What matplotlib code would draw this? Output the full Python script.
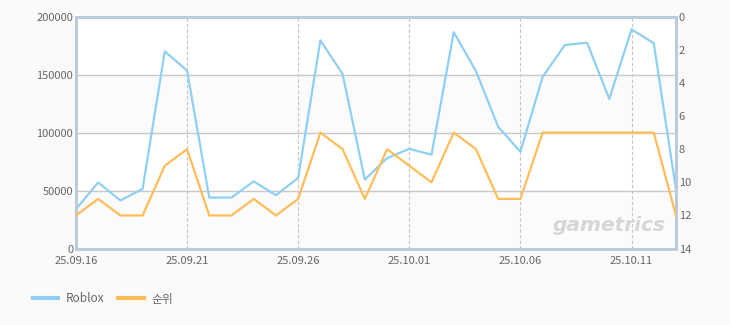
import matplotlib
matplotlib.use('Agg')
import matplotlib.pyplot as plt
from matplotlib.lines import Line2D

plt.rcParams['font.family'] = ['Noto Sans CJK KR', 'DejaVu Sans']

# 25.09.16 ~ 25.10.13 (daily)
dates = ['25.09.16', '25.09.17', '25.09.18', '25.09.19', '25.09.20', '25.09.21', '25.09.22',
         '25.09.23', '25.09.24', '25.09.25', '25.09.26', '25.09.27', '25.09.28', '25.09.29',
         '25.09.30', '25.10.01', '25.10.02', '25.10.03', '25.10.04', '25.10.05', '25.10.06',
         '25.10.07', '25.10.08', '25.10.09', '25.10.10', '25.10.11', '25.10.12', '25.10.13']
roblox = [34000, 57000, 41500, 51500, 170000, 153500, 44000, 44000, 58000, 46000, 61000,
          179500, 150500, 59500, 78000, 86000, 81000, 186500, 153000, 105000, 83500,
          148000, 175500, 177500, 129000, 189000, 177000, 51000]
rank = [12, 11, 12, 12, 9, 8, 12, 12, 11, 12, 11, 7, 8, 11, 8, 9, 10, 7, 8, 11, 11,
        7, 7, 7, 7, 7, 7, 12]
tick_labels = ['25.09.16', '25.09.21', '25.09.26', '25.10.01', '25.10.06', '25.10.11']

blue = '#8fd0f2'
orange = '#ffbd59'
frame = '#bccbdb'
text_c = '#666666'

fig = plt.figure(figsize=(7.3, 3.25), dpi=100, facecolor='#fafafa')
ax = fig.add_axes([0.104, 0.235, 0.822, 0.714])
ax.set_facecolor('white')
x = list(range(len(dates)))

# light bands
for lo, hi in [(0, 50000), (100000, 150000)]:
    ax.axhspan(lo, hi, color='#fbfbfb', zorder=0)

ax.set_xlim(0, len(dates) - 1)
ax.set_ylim(0, 200000)
ax.set_yticks([0, 50000, 100000, 150000, 200000])
ax.set_yticklabels(['0', '50000', '100000', '150000', '200000'])
ax.grid(axis='y', color='#c8c8c8', linewidth=1, zorder=1)
tick_pos = [dates.index(t) for t in tick_labels]
for p in tick_pos:
    ax.axvline(p, color='#c4c4c4', linestyle=(0, (3, 2)), linewidth=0.8, zorder=1)
ax.set_xticks(tick_pos)
ax.set_xticklabels(tick_labels)

ax.plot(x, roblox, color=blue, linewidth=1.6, zorder=3)

ax2 = ax.twinx()
ax2.set_ylim(14, 0)
ax2.set_yticks(range(0, 15, 2))
ax2.plot(x, rank, color=orange, linewidth=1.6, zorder=3)

for a in (ax, ax2):
    for s in a.spines.values():
        s.set_color(frame)
        s.set_linewidth(2)
    a.tick_params(length=0, colors=text_c, labelsize=8, pad=2)
ax.tick_params(axis='x', pad=5)

# watermark
ax.text(0.982, 0.1, 'gametrics', transform=ax.transAxes, ha='right', va='center',
        fontsize=14.5, fontweight='bold', style='italic', color='#d6d6d6',
        family='DejaVu Sans', zorder=2)

handles = [Line2D([], [], color=blue, linewidth=3), Line2D([], [], color=orange, linewidth=3)]
fig.legend(handles, ['Roblox', '순위'], loc='center left', bbox_to_anchor=(0.03, 0.08),
           ncol=2, frameon=False, fontsize=8.5, labelcolor=text_c, handlelength=2.2,
           handletextpad=0.6, columnspacing=1.2)

fig.savefig('out.png', dpi=100, facecolor=fig.get_facecolor())
